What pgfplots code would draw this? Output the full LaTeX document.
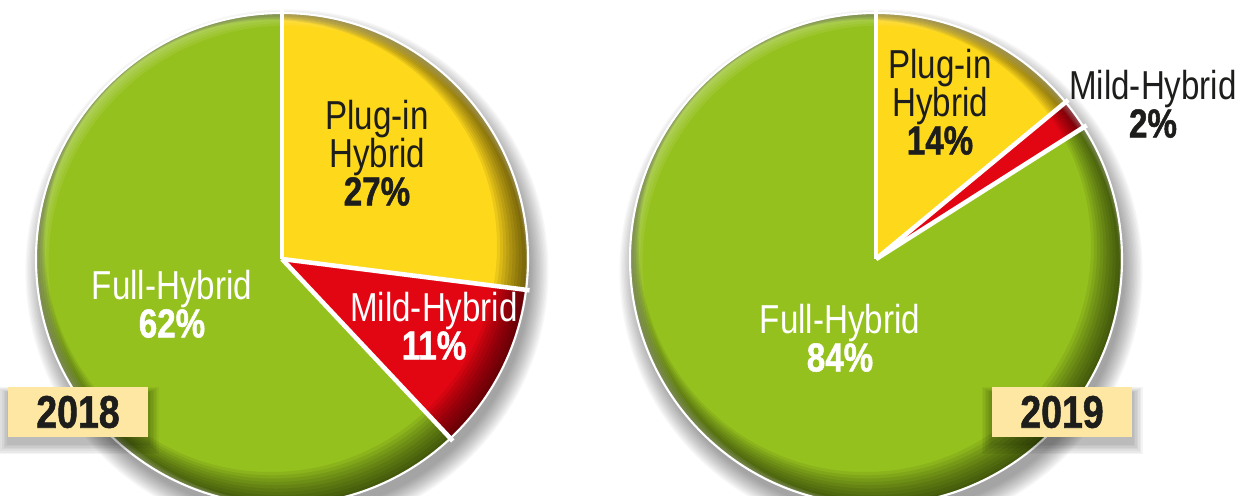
\documentclass[border=0pt]{standalone}
\usepackage{pgfplots}
\pgfplotsset{compat=1.18}
\usepackage{fontspec}
\setmainfont{Liberation Sans}[FakeStretch=0.82, BoldFeatures={FakeBold=1.2}]
\definecolor{full}{HTML}{95C11F}
\definecolor{plug}{HTML}{FDD81B}
\definecolor{mild}{HTML}{E20613}
\definecolor{boxc}{HTML}{FDE7A2}
\definecolor{txt}{HTML}{1D1D1B}
\newcommand\R{2.46cm}
% #1 cx, #2 cy, #3 cumulative share before, #4 share, #5 colour
\newcommand\slice[5]{\fill[#5] (axis cs:#1,#2) -- ++({90-3.6*(#3)}:\R) arc[start angle={90-3.6*(#3)}, end angle={90-3.6*(#3+#4)}, radius=\R] -- cycle;}
\newcommand\sep[3]{\draw[white, line width=1.3pt] (axis cs:#1,#2) -- ++({90-3.6*(#3)}:\R+1pt);}
\newcommand\piebase[2]{%
  \pgfplotsinvokeforeach{1,...,14}{\fill[black, opacity=0.03] (axis cs:#1+5,#2-12) circle ({\R - 0.04cm + ##1*0.014cm});}}
\newcommand\pierim[2]{%
  \begin{scope}
  \clip (axis cs:#1,#2) circle (\R);
  \pgfplotsinvokeforeach{1,...,10}{\fill[black, opacity=0.07, even odd rule] (axis cs:#1,#2) circle ({\R+0.3cm}) (axis cs:#1-##1*1.1,#2+##1*1.3) circle ({\R - ##1*0.02cm});}
  \pgfplotsinvokeforeach{1,...,5}{\fill[white, opacity=0.07, even odd rule] (axis cs:#1,#2) circle ({\R+0.3cm}) (axis cs:#1+##1*1.0,#2-##1*1.0) circle ({\R - ##1*0.015cm});}
  \end{scope}
  \draw[white, line width=0.6pt] (axis cs:#1,#2) circle (\R);}
\newcommand\yearbox[3]{%
  \pgfplotsinvokeforeach{1,...,7}{\fill[black, opacity=0.045] (axis cs:#1-70-##1*1.5,#2-25-6-##1*1.6) rectangle (axis cs:#1+70+##1*1.5,#2+25-6+##1*0.8);}
  \fill[boxc] (axis cs:#1-70,#2-25) rectangle (axis cs:#1+70,#2+25);
  \node[text=txt, font=\fontsize{13}{14}\selectfont\bfseries] at (axis cs:#1,#2) {#3};}
\begin{document}
\begin{tikzpicture}
\begin{axis}[
  scale only axis, width=12.42cm, height=4.95cm,
  xmin=0, xmax=1242, ymin=-495, ymax=0,
  hide axis, clip=true]
\coordinate (sw) at (rel axis cs:0,0);
\coordinate (ne) at (rel axis cs:1,1);
% ---- 2018: Plug-in 27, Mild 11, Full 62
\piebase{282}{-259}
\slice{282}{-259}{0}{27}{plug}
\slice{282}{-259}{27}{11}{mild}
\slice{282}{-259}{38}{62}{full}
\pierim{282}{-259}
\sep{282}{-259}{0}
\sep{282}{-259}{27}
\sep{282}{-259}{38}
% ---- 2019: Plug-in 14, Mild 2, Full 84
\piebase{876}{-259}
\slice{876}{-259}{0}{14}{plug}
\slice{876}{-259}{14}{2}{mild}
\slice{876}{-259}{16}{84}{full}
\pierim{876}{-259}
\sep{876}{-259}{0}
\sep{876}{-259}{14}
\sep{876}{-259}{16}
% ---- labels
\begin{scope}[every node/.style={align=center, font=\fontsize{11.5}{10.8}\selectfont}]
\node[text=txt] at (axis cs:377,-153) {Plug-in\\Hybrid\\\textbf{27\%}};
\node[text=white] at (axis cs:172,-304) {Full-Hybrid\\\textbf{62\%}};
\node[text=white] at (axis cs:434,-326) {Mild-Hybrid\\\textbf{11\%}};
\node[text=txt] at (axis cs:940,-102) {Plug-in\\Hybrid\\\textbf{14\%}};
\node[text=txt] at (axis cs:1153,-104) {Mild-Hybrid\\\textbf{2\%}};
\node[text=white] at (axis cs:840,-338) {Full-Hybrid\\\textbf{84\%}};
\end{scope}
\yearbox{78}{-412}{2018}
\yearbox{1062}{-412}{2019}
\end{axis}
\pgfresetboundingbox
\path (sw) rectangle (ne);
\end{tikzpicture}
\end{document}
